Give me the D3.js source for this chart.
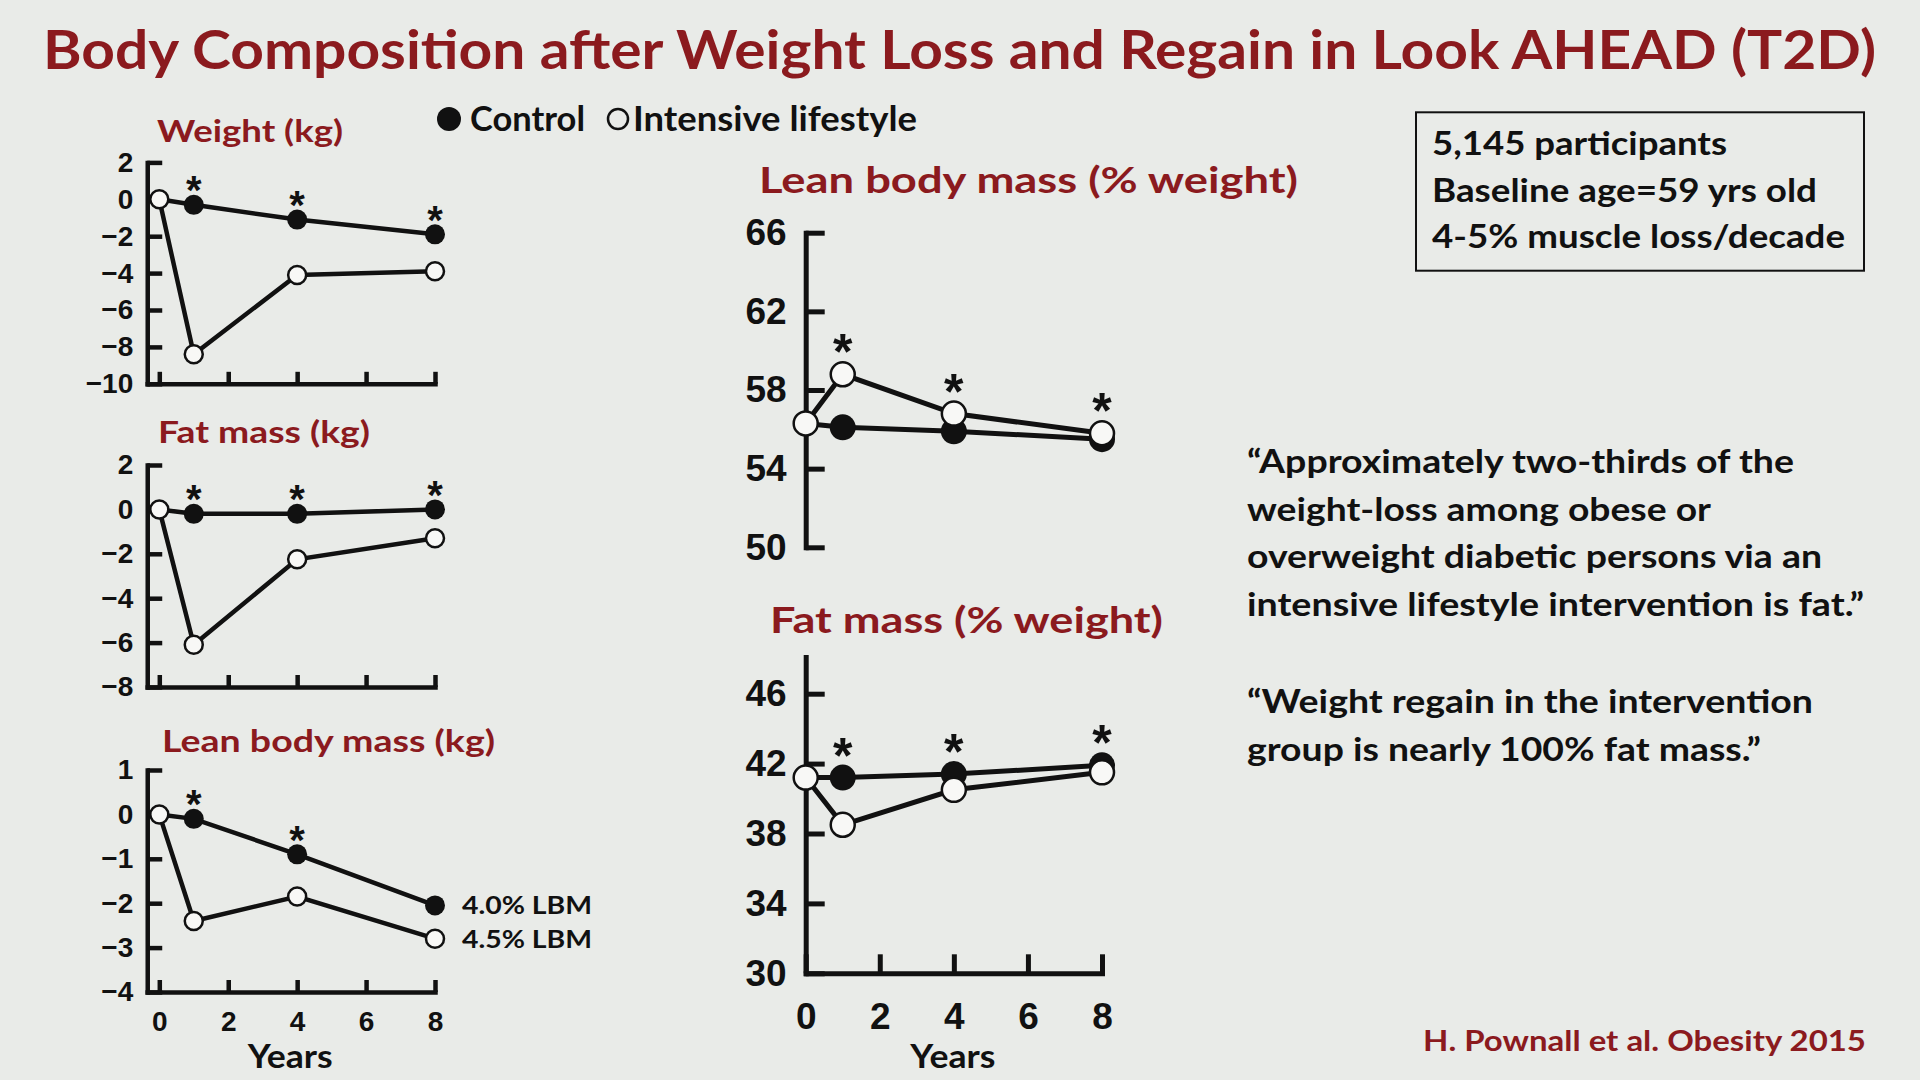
<!DOCTYPE html>
<html>
<head>
<meta charset="utf-8">
<script src="https://cdn.jsdelivr.net/npm/d3@7"></script>
<style>
  html, body { margin: 0; padding: 0; background: #e9ebe8; }
  svg { display: block; }
</style>
</head>
<body>
<div id="chart-area"></div>
<script>
// Look AHEAD body composition
var years = [0, 1, 4, 8];
var yearTicks = [0, 2, 4, 6, 8];

var weightControl   = [0, -0.3, -1.1, -1.9];
var weightIntensive = [0, -8.4, -4.1, -3.9];
var fatKgControl    = [0, -0.2, -0.2, 0.0];
var fatKgIntensive  = [0, -6.1, -2.25, -1.3];
var leanKgControl   = [0, -0.1, -0.9, -2.05];
var leanKgIntensive = [0, -2.4, -1.85, -2.8];
var leanPctControl   = [56.3, 56.1, 55.9, 55.5];
var leanPctIntensive = [56.3, 58.8, 56.8, 55.8];
var fatPctControl    = [41.2, 41.2, 41.4, 41.9];
var fatPctIntensive  = [41.2, 38.5, 40.5, 41.5];

var weightTicks  = [2, 0, -2, -4, -6, -8, -10];
var fatKgTicks   = [2, 0, -2, -4, -6, -8];
var leanKgTicks  = [1, 0, -1, -2, -3, -4];
var leanPctTicks = [66, 62, 58, 54, 50];
var fatPctTicks  = [46, 42, 38, 34, 30];

// years marked with * (significant difference)
var weightStars  = [1, 4, 8];
var fatKgStars   = [1, 4, 8];
var leanKgStars  = [1, 4];
var leanPctStars = [1, 4, 8];
var fatPctStars  = [1, 4, 8];

var lbmNotes = ["4.0% LBM", "4.5% LBM"];
var boxLines = ["5,145 participants", "Baseline age=59 yrs old", "4-5% muscle loss/decade"];
var quoteLines = [
    "\u201cApproximately two-thirds of the",
    "weight-loss among obese or",
    "overweight diabetic persons via an",
    "intensive lifestyle intervention is fat.\u201d",
    "\u201cWeight regain in the intervention",
    "group is nearly 100% fat mass.\u201d"
];

var RED = "#8b1a1e";
var BG = "#e9ebe8";
var TEXT_FONT = "Lato, 'Open Sans', sans-serif";
var NUM_FONT = "'Liberation Sans', Arial, sans-serif";

var width = 1920, height = 1080;

var svg = d3.select("#chart-area").append("svg")
    .attr("width", width)
    .attr("height", height);

svg.append("rect")
    .attr("width", width)
    .attr("height", height)
    .attr("fill", BG);

// text helper; squeezes/stretches to the width seen on the slide
function label(g, str, x, y, size, color, w, anchor) {
    var t = g.append("text")
        .attr("x", x)
        .attr("y", y)
        .attr("font-family", TEXT_FONT)
        .attr("font-weight", 700)
        .attr("font-size", size + "px")
        .attr("text-anchor", anchor || "start")
        .style("fill", color)
        .text(str);
    if (w) {
        t.attr("textLength", w).attr("lengthAdjust", "spacingAndGlyphs");
    }
    return t;
}

// Title
label(svg, "Body Composition after Weight Loss and Regain in Look AHEAD (T2D)", 43, 69, 53, RED, 1833);

// Legend
svg.append("circle").attr("cx", 449).attr("cy", 119).attr("r", 12).attr("fill", "#111");
label(svg, "Control", 470, 131, 34, "#111", 115);
svg.append("circle").attr("cx", 618).attr("cy", 119).attr("r", 10)
    .attr("fill", "none").attr("stroke", "#111").attr("stroke-width", 2.5);
label(svg, "Intensive lifestyle", 633, 131, 34, "#111", 284);

// Panels
var leftX = d3.scaleLinear().domain([0, 8]).range([159.3, 435]);
var midX = d3.scaleLinear().domain([0, 8]).range([805.7, 1102]);

var panels = [
    { title: "Weight (kg)", tx: 157, ty: 142, tw: 186, tsize: 31,
      x: leftX, axisAt: -0.35, domain: [-10, 2], range: [383.8, 162.4], ticks: weightTicks,
      ctrl: weightControl, intv: weightIntensive, stars: weightStars, starOn: "ctrl",
      xAxis: true, xLabels: false, small: true },
    { title: "Fat mass (kg)", tx: 158, ty: 443, tw: 212, tsize: 31,
      x: leftX, axisAt: -0.35, domain: [-8, 2], range: [687, 465], ticks: fatKgTicks,
      ctrl: fatKgControl, intv: fatKgIntensive, stars: fatKgStars, starOn: "ctrl",
      xAxis: true, xLabels: false, small: true },
    { title: "Lean body mass (kg)", tx: 162, ty: 752, tw: 333, tsize: 31,
      x: leftX, axisAt: -0.35, domain: [-4, 1], range: [992, 770], ticks: leanKgTicks,
      ctrl: leanKgControl, intv: leanKgIntensive, stars: leanKgStars, starOn: "ctrl",
      xAxis: true, xLabels: true, small: true },
    { title: "Lean body mass (% weight)", tx: 759, ty: 193, tw: 539, tsize: 37,
      x: midX, axisAt: 0, domain: [50, 66], range: [547.3, 232.7], ticks: leanPctTicks,
      ctrl: leanPctControl, intv: leanPctIntensive, stars: leanPctStars, starOn: "intv",
      xAxis: false, xLabels: false, small: false },
    { title: "Fat mass (% weight)", tx: 770, ty: 633, tw: 393, tsize: 37,
      x: midX, axisAt: 0, domain: [30, 48.1], range: [973.3, 657], ticks: fatPctTicks,
      ctrl: fatPctControl, intv: fatPctIntensive, stars: fatPctStars, starOn: "ctrl",
      xAxis: true, xLabels: true, small: false }
];

panels.forEach(function(p) {
    var g = svg.append("g");
    var x = p.x;
    var y = d3.scaleLinear().domain(p.domain).range(p.range);

    var sw = p.small ? 4.5 : 5;
    var tick = p.small ? 15 : 19;
    var numSize = p.small ? 28 : 37;
    var r = p.small ? 10 : 13;

    label(g, p.title, p.tx, p.ty, p.tsize, RED, p.tw);

    // Y axis, ticks pointing inward
    var yAxisGroup = g.append("g")
        .attr("transform", "translate(" + x(p.axisAt) + ",0)")
        .call(d3.axisLeft(y).tickValues(p.ticks)
            .tickSizeInner(-tick).tickSizeOuter(0)
            .tickPadding(p.small ? 14 : 19)
            .tickFormat(d3.format("d")));

    // X axis along the bottom value
    if (p.xAxis) {
        var xa = d3.scaleLinear().domain([p.axisAt, 8]).range([x(p.axisAt), x(8)]);
        var xAxisGroup = g.append("g")
            .attr("transform", "translate(0," + y(p.domain[0]) + ")")
            .call(d3.axisBottom(xa).tickValues(yearTicks)
                .tickSizeInner(-(p.small ? 12 : 19)).tickSizeOuter(0)
                .tickPadding(p.small ? 19 : 29)
                .tickFormat(p.xLabels ? d3.format("d") : ""));
        styleAxis(xAxisGroup, sw, numSize);
        if (p.xLabels) {
            label(g, "Years", (x(4) + (p.small ? -7 : -1)), 1068, 32, "#111", 85, "middle");
        }
    }
    styleAxis(yAxisGroup, sw, numSize);

    var line = d3.line()
        .x(function(d, i) { return x(years[i]); })
        .y(function(d) { return y(d); });

    g.append("path").datum(p.ctrl)
        .attr("d", line)
        .attr("fill", "none").attr("stroke", "#111").attr("stroke-width", sw);
    g.append("path").datum(p.intv)
        .attr("d", line)
        .attr("fill", "none").attr("stroke", "#111").attr("stroke-width", sw);

    g.selectAll(".ctrl").data(p.ctrl.slice(1)).enter().append("circle")
        .attr("cx", function(d, i) { return x(years[i + 1]); })
        .attr("cy", function(d) { return y(d); })
        .attr("r", r)
        .attr("fill", "#111");

    g.selectAll(".intv").data(p.intv).enter().append("circle")
        .attr("cx", function(d, i) { return x(years[i]); })
        .attr("cy", function(d) { return y(d); })
        .attr("r", r - 1)
        .attr("fill", "#f8f8f6")
        .attr("stroke", "#111")
        .attr("stroke-width", 2.5);

    // asterisks
    var series = p.starOn === "ctrl" ? p.ctrl : p.intv;
    var starSize = p.small ? 40 : 50;
    var gap = p.small ? 24 : 34;
    g.selectAll(".star").data(p.stars).enter().append("text")
        .attr("x", function(d) { return x(d); })
        .attr("y", function(d) { return y(series[years.indexOf(d)]) - gap + starSize * 0.58; })
        .attr("text-anchor", "middle")
        .attr("font-family", NUM_FONT)
        .attr("font-weight", 700)
        .attr("font-size", starSize + "px")
        .style("fill", "#111")
        .text("*");

    if (p.title === "Lean body mass (kg)") {
        label(g, lbmNotes[0], 462, y(p.ctrl[3]) + 9, 25, "#111", 130);
        label(g, lbmNotes[1], 462, y(p.intv[3]) + 9, 25, "#111", 130);
    }
});

function styleAxis(sel, sw, size) {
    sel.select(".domain")
        .attr("stroke", "#111")
        .attr("stroke-width", sw)
        .attr("stroke-linecap", "square");
    sel.selectAll(".tick line")
        .attr("stroke", "#111")
        .attr("stroke-width", sw);
    sel.selectAll(".tick text")
        .attr("font-family", NUM_FONT)
        .attr("font-weight", 700)
        .attr("font-size", size + "px")
        .style("fill", "#111");
}

// Info box
svg.append("rect")
    .attr("x", 1416).attr("y", 112.3)
    .attr("width", 448).attr("height", 158.4)
    .attr("fill", "none").attr("stroke", "#111").attr("stroke-width", 2);
var boxWidths = [295, 385, 413];
boxLines.forEach(function(s, i) {
    label(svg, s, 1432, 155 + i * 46.7, 32, "#111", boxWidths[i]);
});

// Quotes
var quoteY = [473, 521, 568, 616, 713, 761];
var quoteW = [547, 464, 575, 617, 566, 514];
quoteLines.forEach(function(s, i) {
    label(svg, s, 1247, quoteY[i], 32, "#111", quoteW[i]);
});

// Citation
label(svg, "H. Pownall et al. Obesity 2015", 1866, 1051, 28, RED, 443, "end");
</script>
</body>
</html>
